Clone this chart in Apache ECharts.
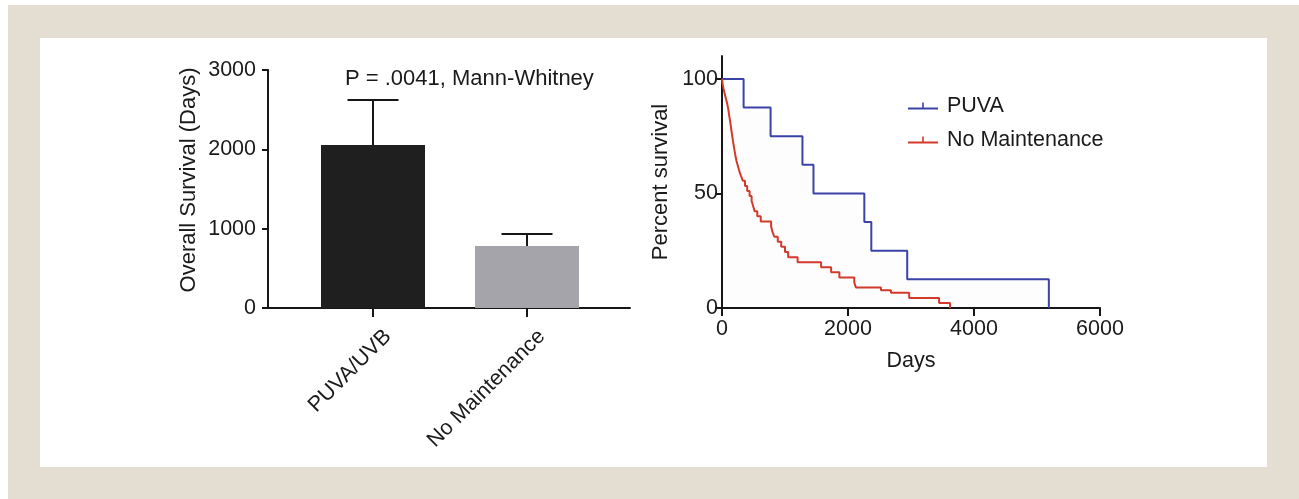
<!DOCTYPE html>
<html><head><meta charset="utf-8">
<script src="https://cdn.jsdelivr.net/npm/echarts@6/dist/echarts.min.js"></script>
<style>
html,body{margin:0;padding:0;background:#fff;}
#frame{position:absolute;left:8px;top:5px;width:1291px;height:494px;background:#e4ded2;}
#panel{position:absolute;left:40px;top:38px;width:1227px;height:429px;background:#fff;}
#chart{position:absolute;left:0;top:0;width:1299px;height:499px;}
</style></head><body>
<div id="frame"></div><div id="panel"></div><div id="chart"></div>
<script>
// ---- data ----
const barCategories = ['PUVA/UVB', 'No Maintenance'];
const barMeans = [2055, 781];
const barErrors = [567, 152];
const barTicks = [0, 1000, 2000, 3000];
const pTitle = 'P = .0041, Mann-Whitney';

const seriesNames = ['PUVA', 'No Maintenance'];
const puvaDays = [0, 343, 771, 1277, 1452, 2259, 2370, 2940, 5188];
const puvaPct  = [100, 87.5, 75, 62.5, 50, 37.5, 25, 12.5, 0];
const noMaintDays = [0,10,25,45,65,85,100,112,125,137,148,160,172,185,198,212,228,250,272,300,330,365,400,438,470,495,518,560,615,780,800,830,885,940,1000,1050,1200,1573,1732,1863,2100,2127,2523,2682,2971,3446,3620];
const noMaintPct  = [100,97.8,95.6,93.3,91.1,88.9,86.7,84.4,82.2,80,77.8,75.6,73.3,71.1,68.9,66.7,64.4,62.2,60,57.8,55.6,53.3,51.1,48.9,46.7,44.4,42.2,40,37.8,35.6,33.3,31.1,28.9,26.7,24.4,22.2,20,17.8,15.6,13.3,11.1,8.9,7.8,6.7,4.4,2.2,0];
const survTicks = [0, 50, 100];
const dayTicks = [0, 2000, 4000, 6000];

// ---- styles ----
const FONT = '"Liberation Sans", Arial, Helvetica, sans-serif';
const TXT = '#1a1a1a';
const AX = '#161616';
const BAR_COLORS = ['#1f1f1f', '#a4a4aa'];
const KM_COLORS = ['#3b43a8', '#d43a2b'];
const FS = 21.5;
const LEG_ICON = 'path://M0,5 L30,5 L30,7 L0,7 Z M14.2,0 L15.8,0 L15.8,5 L14.2,5 Z';
const plain = v => String(v);

const chart = echarts.init(document.getElementById('chart'), null, {renderer: 'canvas'});

const option = {
  animation: false,
  backgroundColor: 'transparent',
  textStyle: {fontFamily: FONT},
  title: {
    text: pTitle, left: 340, top: 63,
    textStyle: {fontSize: 22, fontWeight: 'normal', color: TXT, fontFamily: FONT}
  },
  legend: {
    left: 903, top: 90, orient: 'vertical',
    itemWidth: 30, itemHeight: 7, itemGap: 12,
    textStyle: {fontSize: FS, color: TXT, fontFamily: FONT, padding: [0, 0, 0, 4]},
    data: seriesNames.map(n => ({name: n, icon: LEG_ICON}))
  },
  grid: [
    {left: 268, top: 70, width: 362, height: 238},
    {left: 296, top: 70, width: 308, height: 238},
    {left: 722, top: 56, width: 378, height: 252}
  ],
  xAxis: [
    {gridIndex: 0, type: 'value', min: 0, max: 1,
     axisLine: {lineStyle: {color: AX, width: 2}}, axisTick: {show: false},
     axisLabel: {show: false}, splitLine: {show: false}},
    {gridIndex: 1, type: 'category', data: barCategories,
     axisLine: {show: false},
     axisTick: {show: true, alignWithLabel: true, length: 9, lineStyle: {color: AX, width: 2}},
     axisLabel: {rotate: 45, margin: 40, fontSize: FS, color: TXT, fontFamily: FONT, padding: [0, -21, 0, 0]},
     splitLine: {show: false}},
    {gridIndex: 2, type: 'value', min: dayTicks[0], max: dayTicks[dayTicks.length - 1], interval: 2000,
     name: 'Days', nameLocation: 'middle', nameGap: 42,
     nameTextStyle: {fontSize: FS, color: TXT, fontFamily: FONT},
     axisLine: {lineStyle: {color: AX, width: 2}},
     axisTick: {length: 8, lineStyle: {color: AX, width: 2}},
     axisLabel: {margin: 10, fontSize: FS, color: TXT, fontFamily: FONT, formatter: plain},
     splitLine: {show: false}}
  ],
  yAxis: [
    {gridIndex: 0, type: 'value', min: barTicks[0], max: barTicks[barTicks.length - 1], interval: 1000,
     name: 'Overall Survival (Days)', nameLocation: 'middle', nameGap: 68, nameRotate: 90,
     nameTextStyle: {fontSize: 22, color: TXT, fontFamily: FONT, padding: [0, 0, 0, 18]},
     axisLine: {show: true, lineStyle: {color: AX, width: 2}},
     axisTick: {show: true, length: 6, lineStyle: {color: AX, width: 2}},
     axisLabel: {margin: 12, fontSize: FS, color: TXT, fontFamily: FONT, formatter: plain},
     splitLine: {show: false}},
    {gridIndex: 1, type: 'value', min: barTicks[0], max: barTicks[barTicks.length - 1], interval: 1000,
     show: false, splitLine: {show: false}},
    {gridIndex: 2, type: 'value', min: 0, max: 110,
     name: 'Percent survival', nameLocation: 'middle', nameGap: 50, nameRotate: 90,
     nameTextStyle: {fontSize: 22, color: TXT, fontFamily: FONT},
     axisLine: {show: true, lineStyle: {color: AX, width: 2}},
     axisTick: {show: true, length: 7, customValues: survTicks, lineStyle: {color: AX, width: 2}},
     axisLabel: {margin: 4, fontSize: FS, color: TXT, fontFamily: FONT, customValues: survTicks, formatter: plain},
     splitLine: {show: false}}
  ],
  series: [
    {type: 'bar', xAxisIndex: 1, yAxisIndex: 1, barWidth: 104, data: barMeans,
     itemStyle: {color: p => BAR_COLORS[p.dataIndex]}, z: 2},
    {type: 'custom', xAxisIndex: 1, yAxisIndex: 1, z: 3,
     encode: {x: 0, y: [1, 2]},
     data: barCategories.map((c, i) => [i, barMeans[i], barMeans[i] + barErrors[i]]),
     renderItem: function (params, api) {
       const xi = api.value(0);
       const base = api.coord([xi, api.value(1)]);
       const top = api.coord([xi, api.value(2)]);
       const half = 25.5;
       const style = {stroke: AX, lineWidth: 2, fill: null};
       return {type: 'group', children: [
         {type: 'line', shape: {x1: top[0], y1: top[1], x2: base[0], y2: base[1]}, style: style},
         {type: 'line', shape: {x1: top[0] - half, y1: top[1], x2: top[0] + half, y2: top[1]}, style: style}
       ]};
     }},
    {type: 'line', name: seriesNames[0], xAxisIndex: 2, yAxisIndex: 2, step: 'end',
     showSymbol: false, symbol: 'none', color: KM_COLORS[0],
     lineStyle: {width: 2, color: KM_COLORS[0]},
     areaStyle: {color: 'rgba(70,70,170,0.015)'},
     data: puvaDays.map((d, i) => [d, puvaPct[i]]), z: 3},
    {type: 'line', name: seriesNames[1], xAxisIndex: 2, yAxisIndex: 2, step: 'end',
     showSymbol: false, symbol: 'none', color: KM_COLORS[1],
     lineStyle: {width: 2, color: KM_COLORS[1]},
     data: noMaintDays.map((d, i) => [d, noMaintPct[i]]), z: 4}
  ]
};
chart.setOption(option);
</script>
</body></html>
